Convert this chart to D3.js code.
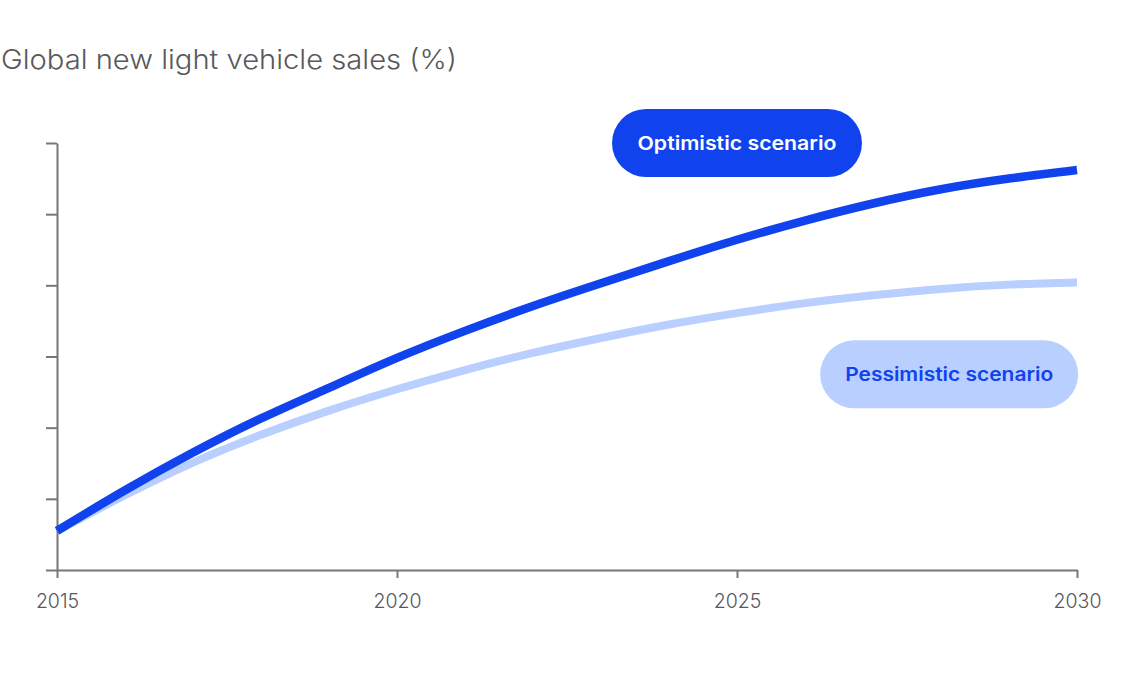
<!DOCTYPE html>
<html>
<head>
<meta charset="utf-8">
<script src="https://cdn.jsdelivr.net/npm/d3@7"></script>
<style>
  body { margin: 0; background: #fff; }
  text { font-family: Inter, "Open Sans", sans-serif; }
</style>
</head>
<body>
<script>
// data (values in %)
var years = [2015, 2016, 2017, 2018, 2019, 2020, 2021, 2022, 2023, 2024, 2025, 2026, 2027, 2028, 2029, 2030];
var optimistic = [5.5, 11.2, 16.5, 21.3, 25.6, 29.8, 33.6, 37.1, 40.3, 43.4, 46.4, 49.1, 51.5, 53.5, 55.0, 56.2];
var pessimistic = [5.5, 10.5, 15.1, 19.0, 22.4, 25.4, 28.1, 30.5, 32.6, 34.5, 36.1, 37.5, 38.6, 39.5, 40.1, 40.4];
var xTicks = [2015, 2020, 2025, 2030];
var yTicks = [0, 10, 20, 30, 40, 50, 60];
var labels = [
  {name: "Optimistic scenario", year: 2025, value: 60, fill: "#1043ee", color: "#ffffff"},
  {name: "Pessimistic scenario", year: 2028.12, value: 27.5, fill: "#b8cfff", color: "#1043ee"}
];

// set the dimensions and margins of the graph
var margin = {top: 143, right: 59, bottom: 110, left: 57},
    width = 1136 - margin.left - margin.right,
    height = 680 - margin.top - margin.bottom;

var root = d3.select("body")
  .append("svg")
    .attr("width", 1136)
    .attr("height", 680);

root.append("text")
  .attr("x", 1)
  .attr("y", 69)
  .attr("fill", "#58585c")
  .attr("font-size", 27)
  .attr("font-weight", 300)
  .attr("textLength", 456)
  .attr("lengthAdjust", "spacingAndGlyphs")
  .text("Global new light vehicle sales (%)");

var svg = root.append("g")
  .attr("transform", "translate(" + margin.left + "," + margin.top + ")");

var x = d3.scaleLinear().domain([2015, 2030]).range([0, width]);
var y = d3.scaleLinear().domain([0, 60]).range([height, 0]);

// X axis
var xAxis = svg.append("g")
  .attr("transform", "translate(0," + height + ")")
  .call(d3.axisBottom(x).tickValues(xTicks).tickFormat(d3.format("d")).tickSize(8).tickSizeOuter(0));

// Y axis, ticks only
var yAxis = svg.append("g")
  .call(d3.axisLeft(y).tickValues(yTicks).tickFormat("").tickSize(11).tickSizeOuter(0));

[xAxis, yAxis].forEach(function(a) {
  a.select(".domain").attr("stroke", "#76767c").attr("stroke-width", 2);
  a.selectAll(".tick line").attr("stroke", "#76767c").attr("stroke-width", 2);
});
xAxis.selectAll(".tick text")
  .attr("fill", "#58585c")
  .attr("font-size", 19.5)
  .attr("font-weight", 300)
  .attr("y", 18)
  .attr("dy", "1em")
  .attr("font-family", "Inter, sans-serif");

// lines
var line = d3.line()
  .x(function(d) { return x(d[0]); })
  .y(function(d) { return y(d[1]); })
  .curve(d3.curveNatural);

svg.append("path")
  .datum(d3.zip(years, pessimistic))
  .attr("fill", "none")
  .attr("stroke", "#b8cfff")
  .attr("stroke-width", 8)
  .attr("d", line);

svg.append("path")
  .datum(d3.zip(years, optimistic))
  .attr("fill", "none")
  .attr("stroke", "#1043ee")
  .attr("stroke-width", 8.5)
  .attr("d", line);

// scenario pills
var pill = svg.selectAll(".pill")
  .data(labels)
  .join("g")
    .attr("class", "pill")
    .attr("transform", function(d) { return "translate(" + x(d.year) + "," + y(d.value) + ")"; });

pill.append("rect")
  .attr("x", function(d, i) { return i === 0 ? -125 : -129; })
  .attr("y", -34)
  .attr("width", function(d, i) { return i === 0 ? 250 : 258; })
  .attr("height", 68)
  .attr("rx", 34)
  .attr("fill", function(d) { return d.fill; });

pill.append("text")
  .attr("text-anchor", "middle")
  .attr("dy", "0.35em")
  .attr("font-size", 19)
  .attr("font-weight", 600)
  .attr("fill", function(d) { return d.color; })
  .attr("textLength", function(d, i) { return i === 0 ? 199 : 208; })
  .attr("lengthAdjust", "spacingAndGlyphs")
  .text(function(d) { return d.name; });
</script>
</body>
</html>
